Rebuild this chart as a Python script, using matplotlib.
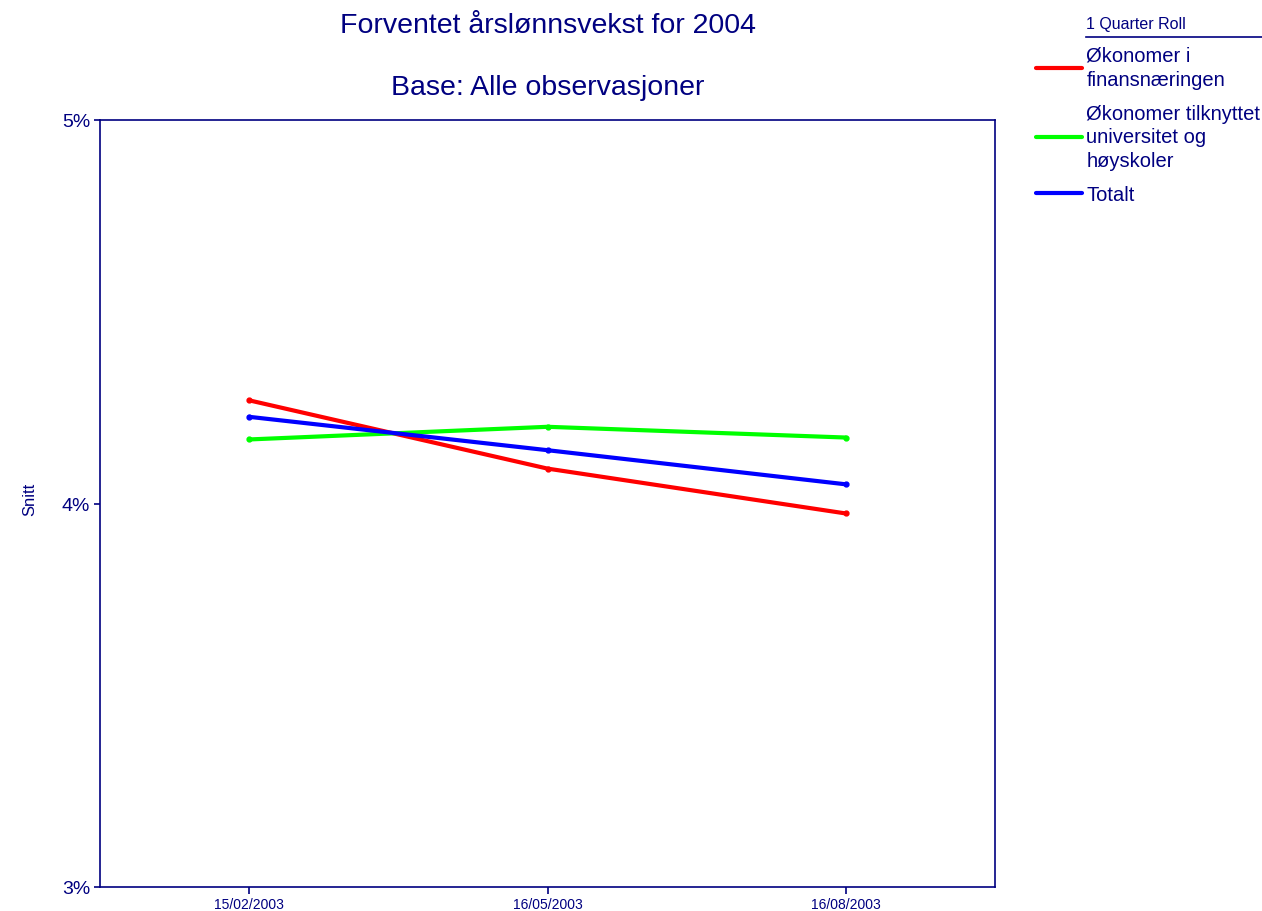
import matplotlib.pyplot as plt
from matplotlib.lines import Line2D

plt.rcParams['font.family'] = ['Liberation Sans', 'DejaVu Sans']

navy = '#000080'

dates = ["15/02/2003", "16/05/2003", "16/08/2003"]
finans = [4.269, 4.091, 3.974]
universitet = [4.167, 4.200, 4.172]
totalt = [4.226, 4.139, 4.050]

series = [
    ("Økonomer i\nfinansnæringen", finans, '#ff0000'),
    ("Økonomer tilknyttet\nuniversitet og\nhøyskoler", universitet, '#00ff00'),
    ("Totalt", totalt, '#0000ff'),
]

fig = plt.figure(figsize=(12.62, 9.12), dpi=100)
ax = fig.add_axes([100 / 1262, 1 - 888 / 912, 895 / 1262, 767 / 912])

x = list(range(len(dates)))
for label, vals, col in series:
    ax.plot(x, vals, color=col, lw=3, marker='o', ms=3.5, label=label,
            solid_capstyle='round')

ax.set_xlim(-0.5, len(dates) - 0.5)
ax.set_ylim(3, 5)
ax.set_yticks([3, 4, 5])
ax.set_yticklabels(["%d%%" % v for v in [3, 4, 5]], fontsize=14, color=navy)
ax.set_xticks(x)
ax.set_xticklabels(dates, fontsize=10, color=navy)
ax.tick_params(axis='y', length=4, width=1.2, color=navy, pad=3)
ax.tick_params(axis='x', length=5, width=1.2, color=navy, pad=2)
for s in ax.spines.values():
    s.set_color(navy)
    s.set_linewidth(1.2)

fig.text(30 / 1262, 1 - 499 / 912, "Snitt", rotation=90, fontsize=12,
         color=navy, ha='center', va='center')

fig.text(548 / 1262, 1 - 33 / 912, "Forventet årslønnsvekst for 2004",
         fontsize=20.5, color=navy, ha='center', va='baseline')
fig.text(548 / 1262, 1 - 95 / 912, "Base: Alle observasjoner",
         fontsize=20.5, color=navy, ha='center', va='baseline')

# legend title + underline
fig.text(1086 / 1262, 1 - 29 / 912, "1 Quarter Roll", fontsize=11.5,
         color=navy, ha='left', va='baseline')
fig.add_artist(Line2D([1086 / 1262, 1262 / 1262], [1 - 38 / 912, 1 - 38 / 912],
                      color=navy, lw=1.2, transform=fig.transFigure))

leg = ax.legend(loc='upper left', bbox_to_anchor=(1036 / 1262, 1 - 47 / 912),
                bbox_transform=fig.transFigure, frameon=False, fontsize=14.5,
                handlelength=2.3, handletextpad=0.2, labelspacing=0.75,
                borderpad=0, borderaxespad=0)
for t in leg.get_texts():
    t.set_color(navy)
    t.set_linespacing(1.3)
for h in leg.get_lines():
    h.set_marker('')

fig.savefig("out.png", dpi=100)
